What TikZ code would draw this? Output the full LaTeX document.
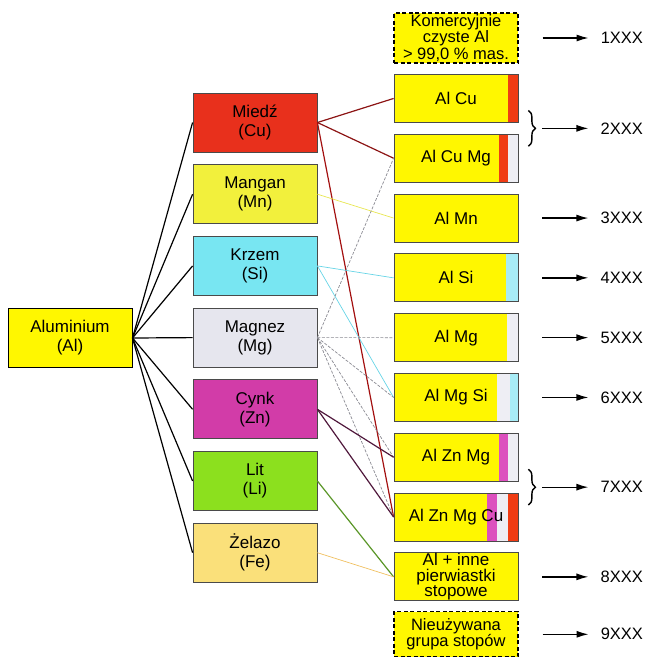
\documentclass[tikz,border=0pt]{standalone}
\usepackage{fontspec}
\setmainfont{Liberation Sans}
\usetikzlibrary{arrows.meta, positioning, calc, decorations.pathreplacing}

\definecolor{alyellow}{HTML}{FFF700}
\definecolor{cured}{HTML}{E8301C}
\definecolor{mnyellow}{HTML}{F2F03C}
\definecolor{siblue}{HTML}{78E6F2}
\definecolor{mggray}{HTML}{E6E6EE}
\definecolor{znmag}{HTML}{D23CA8}
\definecolor{ligreen}{HTML}{8CE01E}
\definecolor{feyellow}{HTML}{FAE07A}
\definecolor{boxline}{HTML}{4A4A4A}
\definecolor{bandred}{HTML}{F03C14}
\definecolor{bandcyan}{HTML}{A8ECF6}
\definecolor{bandmag}{HTML}{DC50BE}
\definecolor{bandwhite}{HTML}{EEEEF4}
\definecolor{culink}{HTML}{8C1414}
\definecolor{mnlink}{HTML}{E8E650}
\definecolor{silink}{HTML}{66D4E6}
\definecolor{mglink}{HTML}{8A8A92}
\definecolor{znlink}{HTML}{50183C}
\definecolor{lilink}{HTML}{5A9628}
\definecolor{felink}{HTML}{F0C060}

% coloured band at the right end of an alloy box
\newcommand{\alloyband}[3]{\fill[#3] ([xshift=-#1]path picture bounding box.north east) rectangle ([xshift=-#2]path picture bounding box.south east);}

\begin{document}
\begin{tikzpicture}[
    x=1pt, y=-1pt,
    node distance=11.9pt,
    element/.style={draw=boxline, line width=0.8pt, minimum width=124pt, minimum height=59pt, align=center, inner sep=1pt, font=\fontsize{17}{19}\selectfont},
    alloy/.style={draw=boxline, line width=0.8pt, fill=alyellow, minimum width=124pt, minimum height=48pt, align=center, inner sep=1pt, font=\fontsize{17}{19}\selectfont},
    series/.style={alloy, draw=black, dash pattern=on 4pt off 2.5pt, line width=1.1pt, font=\fontsize{16.5}{16.5}\selectfont},
    link/.style={line width=1.2pt},
    thinlink/.style={line width=0.7pt},
    arrow/.style={-{Latex[length=12pt,width=7pt]}, line width=1.3pt, shorten >=12pt},
    grp/.style={inner sep=0pt, anchor=west, font=\fontsize{16.5}{19}\selectfont},
    brace/.style={decorate, decoration={brace, amplitude=7pt}, line width=1.4pt}
]
\useasboundingbox (0,0) rectangle (648,657);

% elements
\node[element, fill=alyellow, draw=black, line width=1pt] (al) at (70,338) {Aluminium\\(Al)};
\node[element, fill=cured] (cu) at (255,122.5) {Miedź\\(Cu)};
\node[element, fill=mnyellow, below=of cu] (mn) {Mangan\\(Mn)};
\node[element, fill=siblue, below=of mn] (si) {Krzem\\(Si)};
\node[element, fill=mggray, below=of si] (mg) {Magnez\\(Mg)};
\node[element, fill=znmag, below=of mg] (zn) {Cynk\\(Zn)};
\node[element, fill=ligreen, below=of zn] (li) {Lit\\(Li)};
\node[element, fill=feyellow, below=of li] (fe) {Żelazo\\(Fe)};

% alloys
\node[series, minimum height=50pt] (pure) at (456,38) {Komercyjnie\\czyste Al\\> 99,0 \% mas.};
\node[alloy, below=10.5pt of pure, path picture={\alloyband{10pt}{0pt}{bandred}}] (alcu) {Al Cu};
\node[alloy, below=11pt of alcu, path picture={\alloyband{19pt}{10pt}{bandred}\alloyband{10pt}{0pt}{bandwhite}}] (alcumg) {Al Cu Mg};
\node[alloy, below=11pt of alcumg] (almn) {Al Mn};
\node[alloy, below=11pt of almn, path picture={\alloyband{12pt}{0pt}{bandcyan}}] (alsi) {Al Si};
\node[alloy, below=11pt of alsi, path picture={\alloyband{11pt}{0pt}{bandwhite}}] (almg) {Al Mg};
\node[alloy, below=11pt of almg, path picture={\alloyband{21pt}{8pt}{bandwhite}\alloyband{8pt}{0pt}{bandcyan}}] (almgsi) {Al Mg Si};
\node[alloy, below=11pt of almgsi, path picture={\alloyband{19pt}{10pt}{bandmag}\alloyband{10pt}{0pt}{bandwhite}}] (alznmg) {Al Zn Mg};
\node[alloy, below=11pt of alznmg, path picture={\alloyband{31pt}{21pt}{bandmag}\alloyband{21pt}{10pt}{bandwhite}\alloyband{10pt}{0pt}{bandred}}] (alznmgcu) {Al Zn Mg Cu};
\node[alloy, inner sep=0pt, font=\fontsize{17}{15.5}\selectfont, below=11pt of alznmgcu] (alinne) {Al + inne\\pierwiastki\\stopowe};
\node[series, minimum height=45pt, font=\fontsize{16.5}{16}\selectfont, below=10pt of alinne] (unused) {Nieużywana\\grupa stopów};

% aluminium to elements
\foreach \e in {cu,mn,si,mg,zn,li,fe}
    \draw[link] (al.east) -- (\e.west);

% elements to alloys
\draw[link, culink] (cu.east) -- (alcu.west);
\draw[link, culink] (cu.east) -- (alcumg.west);
\draw[link, culink!80!red] (cu.east) -- (alznmgcu.west);
\draw[thinlink, mnlink] (mn.east) -- (almn.west);
\draw[thinlink, silink] (si.east) -- (alsi.west);
\draw[thinlink, silink] (si.east) -- (almgsi.west);
\foreach \a in {alcumg,almg,almgsi,alznmg,alznmgcu}
    \draw[thinlink, mglink, dash pattern=on 3pt off 1.5pt] (mg.east) -- (\a.west);
\draw[link, znlink] (zn.east) -- (alznmg.west);
\draw[link, znlink] (zn.east) -- (alznmgcu.west);
\draw[link, lilink] (li.east) -- (alinne.west);
\draw[thinlink, felink] (fe.east) -- (alinne.west);

% braces
\draw[brace] ([shift={(10pt,-12pt)}]alcu.east) -- ([shift={(10pt,12pt)}]alcumg.east);
\draw[brace] ([shift={(10pt,-12pt)}]alznmg.east) -- ([shift={(10pt,12pt)}]alznmgcu.east);
\coordinate (m2) at ($(alcu.east)!0.5!(alcumg.east)$);
\coordinate (m7) at ($(alznmg.east)!0.5!(alznmgcu.east)$);

% series
\node[grp, right=82pt of pure] (g1) {1XXX};
\node[grp] (g2) at ([xshift=82pt]m2) {2XXX};
\node[grp, right=82pt of almn] (g3) {3XXX};
\node[grp, right=82pt of alsi] (g4) {4XXX};
\node[grp, right=82pt of almg] (g5) {5XXX};
\node[grp, right=82pt of almgsi] (g6) {6XXX};
\node[grp] (g7) at ([xshift=82pt]m7) {7XXX};
\node[grp, right=82pt of alinne] (g8) {8XXX};
\node[grp, right=82pt of unused] (g9) {9XXX};

\coordinate (s1) at ([xshift=24pt]pure.east);
\coordinate (s2) at ([xshift=24pt]m2);
\coordinate (s3) at ([xshift=24pt]almn.east);
\coordinate (s4) at ([xshift=24pt]alsi.east);
\coordinate (s5) at ([xshift=24pt]almg.east);
\coordinate (s6) at ([xshift=24pt]almgsi.east);
\coordinate (s7) at ([xshift=24pt]m7);
\coordinate (s8) at ([xshift=24pt]alinne.east);
\coordinate (s9) at ([xshift=24pt]unused.east);

\foreach \i in {1,...,9}
    \draw[arrow] (s\i) -- (g\i);
\end{tikzpicture}
\end{document}
